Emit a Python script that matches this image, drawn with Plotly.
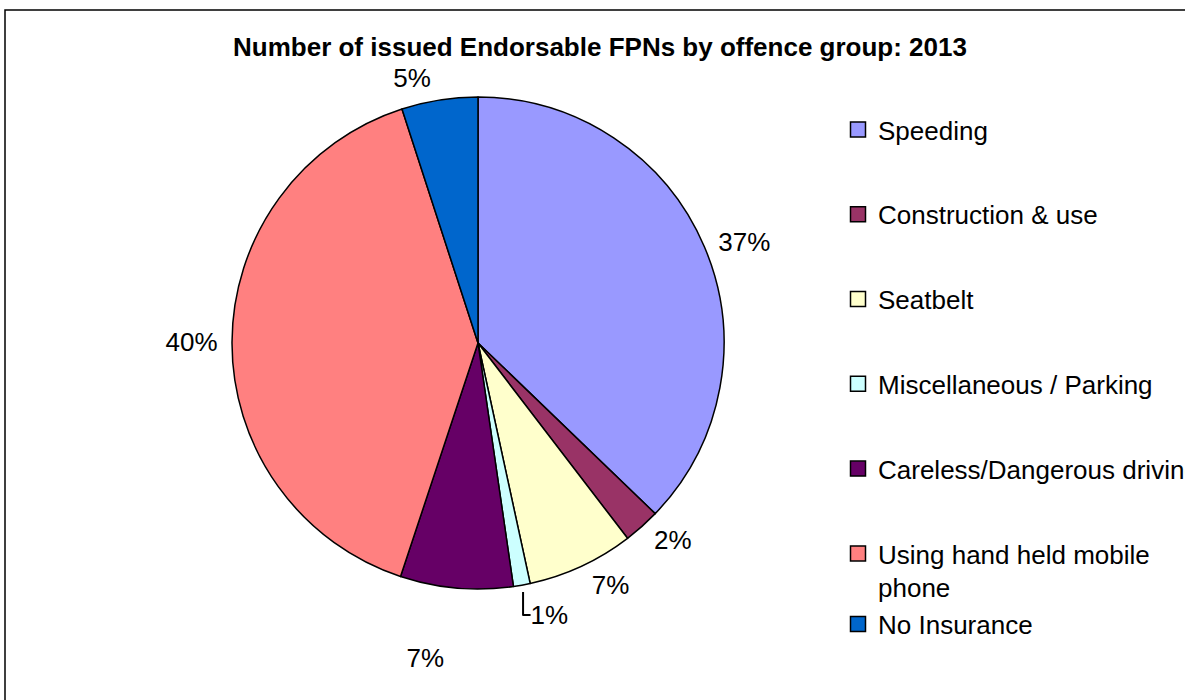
import plotly.graph_objects as go

# Data
categories = ["Speeding", "Construction & use", "Seatbelt", "Miscellaneous / Parking",
              "Careless/Dangerous driving", "Using hand held mobile phone", "No Insurance"]
legend_labels = ["Speeding", "Construction & use", "Seatbelt", "Miscellaneous / Parking",
                 "Careless/Dangerous driving", "Using hand held mobile<br>phone", "No Insurance"]
shares = [37.2, 2.4, 7.0, 1.1, 7.4, 39.9, 5.0]
colors = ["#9999FF", "#993366", "#FFFFCC", "#CCFFFF", "#660066", "#FF8080", "#0066CC"]
title_text = "Number of issued Endorsable FPNs by offence group: 2013"

W, H = 1185, 700
FONT = "Liberation Sans, Arial, sans-serif"

# pie geometry (pixels)
CX, CY, R = 478, 343, 246
R_LAB = 253          # radius used to place the percentage labels
LAB_PULL = [0, 0, 0, 0, 0.19, 0, 0]   # label of the careless slice sits further out
RD = R_LAB * (1 + max(LAB_PULL))


def dom(r):
    return dict(x=[(CX - r) / W, (CX + r) / W], y=[1 - (CY + r) / H, 1 - (CY - r) / H])


fig = go.Figure()
# Slices
fig.add_trace(go.Pie(
    labels=categories, values=shares, sort=False, direction="clockwise", rotation=0,
    marker=dict(colors=colors, line=dict(color="black", width=1.5)),
    textinfo="none", domain=dom(R), showlegend=False, hoverinfo="label+percent",
))
# Percentage labels (same values, transparent slices, slightly larger radius)
fig.add_trace(go.Pie(
    labels=categories, values=shares, sort=False, direction="clockwise", rotation=0,
    marker=dict(colors=["rgba(0,0,0,0)"] * len(shares), line=dict(width=0)),
    pull=LAB_PULL,
    texttemplate="%{percent:.0%}", textposition="outside",
    outsidetextfont=dict(family=FONT, size=26, color="black"),
    domain=dom(RD), showlegend=False, hoverinfo="skip",
))

# Legend entries
groups = ["g0", "g1", "g2", "g3", "g4", "g5", "g5"]
for lab, col, g in zip(legend_labels, colors, groups):
    fig.add_trace(go.Scatter(
        x=[None], y=[None], mode="markers", name=lab, legendgroup=g,
        marker=dict(symbol="square", size=15, color=col, line=dict(color="black", width=1.5)),
        showlegend=True, hoverinfo="skip",
    ))

fig.update_layout(
    width=W, height=H,
    margin=dict(l=0, r=0, t=0, b=0, autoexpand=False),
    paper_bgcolor="white", plot_bgcolor="white",
    font=dict(family=FONT, size=26, color="black"),
    title=dict(text="<b>" + title_text + "</b>", x=600 / W, xanchor="center",
               y=1 - 47 / H, yanchor="middle", font=dict(family=FONT, size=26, color="black")),
    xaxis=dict(visible=False), yaxis=dict(visible=False),
    legend=dict(x=838 / W, xanchor="left", y=1 - 106 / H, yanchor="top",
                tracegroupgap=48, valign="top", bgcolor="rgba(0,0,0,0)",
                font=dict(family=FONT, size=26, color="black"), itemclick=False),
    shapes=[dict(type="rect", xref="paper", yref="paper",
                 x0=5 / W, x1=1.02, y0=-0.02, y1=1 - 10 / H,
                 line=dict(color="black", width=1.5), fillcolor="rgba(0,0,0,0)")],
)

fig.write_html("out.html", config={"displayModeBar": False},
               post_script="document.body.style.margin='0';")
